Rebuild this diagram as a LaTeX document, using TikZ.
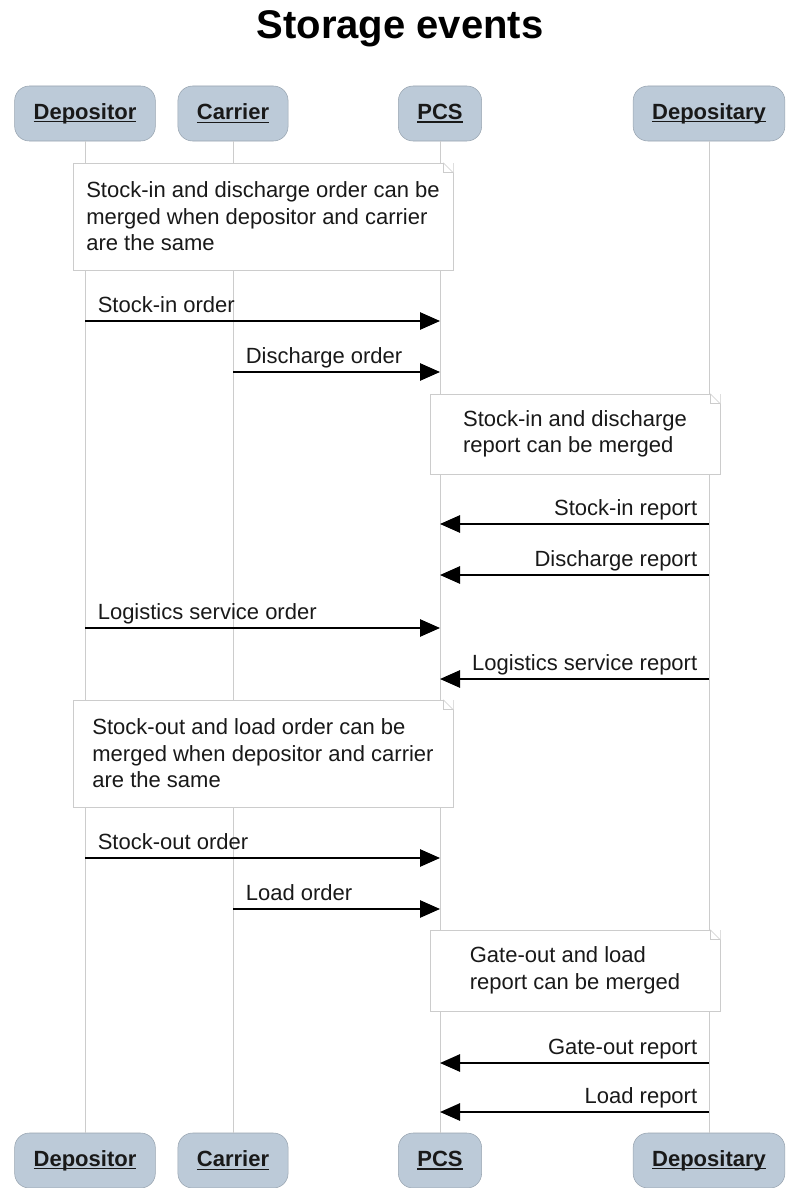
\documentclass[tikz,border=0pt]{standalone}
\usepackage{fontspec}
\setmainfont{Liberation Sans}
\usetikzlibrary{arrows.meta}
\definecolor{actorfill}{HTML}{BCCAD8}
\definecolor{actorline}{HTML}{98A4B0}
\definecolor{noteline}{HTML}{CCCCCC}
\definecolor{lifeline}{HTML}{CCCCCC}
\newcommand{\ulname}[1]{\setbox0\hbox{\bfseries#1}\rlap{\rule[-2.3pt]{\wd0}{1.1pt}}\box0}
\begin{document}
\begin{tikzpicture}[x=0.75pt,y=-0.75pt,
  font=\fontsize{16.5}{19.9}\selectfont,
  actor/.style={draw=actorline,fill=actorfill,rounded corners=11pt,minimum height=41.25pt,inner xsep=14.25pt,text=black!90},
  note/.style={draw=noteline,fill=white,align=left,text=black!90},
  msg/.style={line width=1.2pt,-{Triangle[length=15pt,width=13pt]}},
  lbl/.style={inner sep=0pt,text=black!90}]
\useasboundingbox (0,0) rectangle (785,1188);
\node[font=\fontsize{30}{36}\selectfont\bfseries,anchor=base](title)at(400,39){Storage events};
\foreach \n/\x/\t in {dep/85/Depositor,car/233/Carrier,pcs/440/PCS,dpy/709/Depositary}{
  \node[actor](\n1)at(\x,113.5){\ulname{\t}};
  \node[actor](\n2)at(\x,1160.5){\ulname{\t}};
  \draw[lifeline,line width=0.75pt](\n1)--(\n2);
}
\node[note,minimum width=285pt,minimum height=80.25pt](n1)at(263,216.5){Stock-in and discharge order can be\\merged when depositor and carrier\\are the same};
\node[note,minimum width=217.5pt,minimum height=60pt](n2)at(575,434){Stock-in and discharge\\report can be merged};
\node[note,minimum width=285pt,minimum height=80.25pt](n3)at(263,753.5){Stock-out and load order can be\\merged when depositor and carrier\\are the same};
\node[note,minimum width=217.5pt,minimum height=60.75pt](n4)at(575,970.5){Gate-out and load\\report can be merged};
\foreach \m in {n1,n2,n3,n4}{
  \fill[white]([xshift=-7.5pt]\m.north east)--(\m.north east)--([yshift=-7.5pt]\m.north east)--cycle;
  \draw[noteline]([xshift=-7.5pt]\m.north east)--([yshift=-7.5pt]\m.north east);
  \draw[noteline]([xshift=-7.5pt]\m.north east)--([xshift=-7.5pt,yshift=-7.5pt]\m.north east)--([yshift=-7.5pt]\m.north east);
}
\foreach \y/\a/\b/\t/\p/\d in {321/dep/pcs/Stock-in order/west/9,372/car/pcs/Discharge order/west/9,
  524/dpy/pcs/Stock-in report/east/-8.25,575/dpy/pcs/Discharge report/east/-8.25,
  628/dep/pcs/Logistics service order/west/9,679/dpy/pcs/Logistics service report/east/-8.25,
  858/dep/pcs/Stock-out order/west/9,909/car/pcs/Load order/west/9,
  1063/dpy/pcs/Gate-out report/east/-8.25,1112/dpy/pcs/Load report/east/-8.25}{
  \draw[msg](\a1|-0,\y)--node[lbl,pos=0,anchor=base \p,xshift=\d pt,yshift=6.5pt](l\y){\t}(\b1|-0,\y);
}
\end{tikzpicture}
\end{document}
